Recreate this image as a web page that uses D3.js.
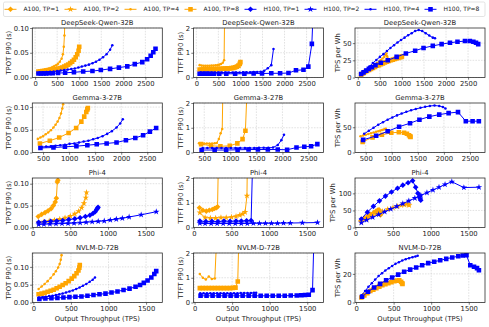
<!DOCTYPE html>
<html lang="en">
<head>
<meta charset="UTF-8">
<title>Latency and energy efficiency vs throughput</title>
<style>
  body { margin: 0; background: #fff; }
  svg { display: block; font-family: 'DejaVu Sans', sans-serif; }
</style>
</head>
<body>
<svg id="chart" width="489" height="327"></svg>
<script src="https://d3js.org/d3.v7.min.js"></script>
<script>
// ---------------- data ----------------
const models = ["DeepSeek-Qwen-32B", "Gemma-3-27B", "Phi-4", "NVLM-D-72B"];
const yLabels = ["TPOT P90 (s)", "TTFT P90 (s)", "TPS per Wh"];
const xLabel = "Output Throughput (TPS)";
const legendGpus = ["A100", "H100"];
const legendTps = [1, 2, 4, 8];

// x tick labels per row
const xTicksRow = [[0, 500, 1000, 1500, 2000, 2500], [500, 1000, 1500, 2000, 2500], [0, 500, 1000, 1500], [0, 500, 1000, 1500]];
const tpotTicks = [0, 0.05, 0.10];
const ttftTicks = [0, 1, 2];
const effTicksRow = [[0, 25, 50], [0, 50], [0, 50, 100], [0, 20]];

// DeepSeek-Qwen-32B
const dsA4_x = [75, 120, 165, 210, 255, 300, 345, 390, 435, 480, 520, 560, 600, 630, 650, 665, 675];
const dsA4_tpot = [0.013, 0.014, 0.015, 0.016, 0.017, 0.018, 0.019, 0.021, 0.023, 0.025, 0.028, 0.032, 0.038, 0.047, 0.062, 0.085, 0.115];
const dsA4_ttft = [0.50, 0.48, 0.47, 0.47, 0.47, 0.47, 0.48, 0.48, 0.49, 0.50, 0.52, 0.55, 0.60, 0.70, 4.0, 6.0, 8.0];
const dsA4_eff = [4, 6.5, 9, 11, 13, 15, 17, 19, 21, 23, 25, 27.5, 30, 33, 35, 31, 28];

const dsA8_x = [75, 120, 165, 210, 255, 300, 345, 390, 435, 480, 525, 570, 615, 660, 705, 750, 795, 840, 880, 920, 955, 985, 1000];
const dsA8_tpot = [0.012, 0.012, 0.013, 0.013, 0.014, 0.014, 0.015, 0.016, 0.016, 0.017, 0.018, 0.019, 0.020, 0.022, 0.024, 0.026, 0.029, 0.032, 0.036, 0.041, 0.047, 0.054, 0.062];
const dsA8_ttft = [0.32, 0.32, 0.33, 0.33, 0.33, 0.33, 0.34, 0.34, 0.34, 0.35, 0.35, 0.35, 0.36, 0.36, 0.37, 0.37, 0.38, 0.39, 0.41, 0.44, 0.48, 0.55, 0.62];
const dsA8_eff = [4, 6, 8, 9.5, 11, 12.5, 14, 15.5, 17, 18, 19.5, 20.5, 22, 23, 24, 25, 26, 27, 28, 28.5, 29.5, 30, 30.5];

const dsH4_x = [100, 180, 260, 340, 420, 500, 580, 660, 740, 820, 900, 980, 1060, 1140, 1220, 1300, 1380, 1460, 1540, 1620, 1700, 1750];
const dsH4_tpot = [0.010, 0.0105, 0.011, 0.0115, 0.012, 0.013, 0.014, 0.015, 0.016, 0.017, 0.018, 0.020, 0.022, 0.024, 0.026, 0.029, 0.032, 0.036, 0.041, 0.047, 0.056, 0.065];
const dsH4_ttft = [0.20, 0.20, 0.20, 0.20, 0.20, 0.20, 0.20, 0.20, 0.20, 0.20, 0.20, 0.20, 0.21, 0.21, 0.21, 0.22, 0.22, 0.23, 0.27, 0.37, 0.50, 1.15];
const dsH4_eff = [6, 11, 16, 21, 25.5, 30, 34, 38.5, 43, 47, 51, 54.5, 58, 61.5, 64.5, 67.5, 69, 67.5, 64.5, 61, 58, 57];

const dsH8_x = [75, 130, 190, 250, 320, 400, 520, 680, 880, 1090, 1300, 1490, 1700, 1900, 2090, 2260, 2430, 2540, 2620, 2680, 2730];
const dsH8_tpot = [0.008, 0.008, 0.008, 0.008, 0.0085, 0.0085, 0.009, 0.0095, 0.0105, 0.012, 0.013, 0.015, 0.0175, 0.020, 0.0225, 0.027, 0.031, 0.037, 0.044, 0.051, 0.058];
const dsH8_ttft = [0.15, 0.15, 0.15, 0.15, 0.15, 0.15, 0.15, 0.15, 0.15, 0.15, 0.16, 0.16, 0.17, 0.17, 0.18, 0.29, 0.31, 0.44, 1.36, 4.0, 8.0];
const dsH8_eff = [5, 7.5, 10, 12.5, 15, 18, 21.5, 25, 30, 35, 39, 43, 46, 48.5, 50.5, 52, 53, 53, 52, 50.5, 48.5];

// Gemma-3-27B
const gmA4_x = [400, 450, 500, 550, 600, 650, 700, 740, 780, 815, 845, 870, 885];
const gmA4_tpot = [0.030, 0.033, 0.036, 0.040, 0.044, 0.049, 0.055, 0.061, 0.068, 0.076, 0.086, 0.097, 0.106];
const gmA4_ttft = [0.37, 0.36, 0.36, 0.36, 0.36, 0.36, 0.37, 0.38, 0.55, 0.78, 0.95, 4.0, 6.0];
const gmA4_eff = [32, 33.5, 35, 36.5, 38, 39.5, 41, 42, 43.3, 44.5, 45.5, 46.5, 47];

const gmA8_x = [440, 630, 810, 990, 1135, 1235, 1290, 1330, 1350, 1360];
const gmA8_tpot = [0.020, 0.026, 0.033, 0.043, 0.054, 0.068, 0.079, 0.089, 0.095, 0.098];
const gmA8_ttft = [0.34, 0.27, 0.25, 0.27, 0.37, 0.54, 0.88, 3.0, 5.0, 6.0];
const gmA8_eff = [21, 30, 35, 39, 40, 39, 37, 34, 32, 31];

const gmH4_x = [470, 560, 650, 740, 830, 920, 1010, 1100, 1190, 1280, 1370, 1460, 1550, 1640, 1730, 1820, 1910, 1980, 2030];
const gmH4_tpot = [0.012, 0.013, 0.014, 0.015, 0.016, 0.017, 0.019, 0.020, 0.022, 0.024, 0.026, 0.029, 0.032, 0.036, 0.041, 0.047, 0.055, 0.064, 0.073];
const gmH4_ttft = [0.18, 0.18, 0.18, 0.18, 0.18, 0.18, 0.18, 0.18, 0.18, 0.18, 0.18, 0.18, 0.19, 0.19, 0.19, 0.20, 0.30, 0.50, 0.72];
const gmH4_eff = [37, 43, 49, 55, 60, 65, 69.5, 73.5, 77, 80.5, 83.5, 86, 88.5, 90.5, 92, 93, 92, 90, 87];

const gmH8_x = [450, 700, 920, 1140, 1350, 1530, 1720, 1910, 2090, 2270, 2420, 2550, 2670];
const gmH8_tpot = [0.010, 0.011, 0.0125, 0.014, 0.016, 0.018, 0.020, 0.022, 0.027, 0.032, 0.038, 0.046, 0.054];
const gmH8_ttft = [0.10, 0.10, 0.10, 0.11, 0.12, 0.12, 0.12, 0.12, 0.11, 0.20, 0.23, 0.25, 0.34];
const gmH8_eff = [25, 33, 42, 51, 58, 65, 71, 75, 78, 80, 62, 62, 62];

// Phi-4
const phA1_x = [75, 120, 165, 205, 245, 275, 300, 315, 328, 335];
const phA1_tpot = [0.025, 0.030, 0.034, 0.038, 0.043, 0.050, 0.058, 0.067, 0.104, 0.108];
const phA1_ttft = [0.80, 0.70, 0.66, 0.70, 0.73, 0.77, 0.80, 0.84, 3.0, 5.0];
const phA1_eff = [20, 28, 34, 39, 44, 48, 51, 52, 42, 37];

const phA2_x = [80, 150, 220, 290, 360, 430, 500, 560, 610, 650, 680, 705, 715];
const phA2_tpot = [0.012, 0.013, 0.015, 0.017, 0.019, 0.022, 0.026, 0.031, 0.037, 0.045, 0.055, 0.068, 0.080];
const phA2_ttft = [0.60, 0.40, 0.38, 0.38, 0.40, 0.40, 0.42, 0.45, 0.50, 0.55, 0.62, 1.28, 4.0];
const phA2_eff = [16, 25, 33, 40, 47, 53, 58, 62, 65, 67, 68, 67, 65];

const phH1_x = [80, 160, 240, 320, 400, 480, 560, 630, 700, 760, 800, 830, 850, 860, 868];
const phH1_tpot = [0.012, 0.013, 0.014, 0.015, 0.016, 0.018, 0.020, 0.022, 0.025, 0.028, 0.032, 0.036, 0.041, 0.044, 0.046];
const phH1_ttft = [0.26, 0.24, 0.25, 0.24, 0.26, 0.25, 0.26, 0.26, 0.27, 0.28, 5, 10, 12, 14, 15];
const phH1_eff = [25, 45, 62, 78, 92, 104, 115, 124, 131, 137, 118, 100, 90, 84, 80];

const phH2_x = [80, 150, 230, 310, 390, 470, 550, 630, 710, 790, 870, 950, 1030, 1110, 1190, 1280, 1440, 1640];
const phH2_tpot = [0.007, 0.0075, 0.008, 0.0085, 0.009, 0.0095, 0.010, 0.011, 0.012, 0.013, 0.014, 0.015, 0.017, 0.019, 0.021, 0.024, 0.029, 0.036];
const phH2_ttft = [0.17, 0.16, 0.16, 0.16, 0.16, 0.16, 0.16, 0.16, 0.16, 0.17, 0.17, 0.17, 0.17, 0.17, 0.18, 0.18, 0.19, 0.20];
const phH2_eff = [14, 22, 30, 38, 46, 54, 62, 70, 78, 86, 94, 102, 110, 118, 126, 134, 117, 118];

// NVLM-D-72B
const nvA4_x = [70, 110, 150, 190, 230, 270, 300, 330, 350, 365, 375];
const nvA4_tpot = [0.038, 0.045, 0.052, 0.060, 0.069, 0.079, 0.088, 0.098, 0.108, 0.120, 0.133];
const nvA4_ttft = [1.15, 1.00, 0.93, 1.05, 0.95, 0.97, 3.0, 5.0, 6.0, 7.0, 8.0];
const nvA4_eff = [3.5, 5.5, 7.5, 9, 10.5, 11.5, 12.5, 13.3, 13.8, 14, 14];

const nvA8_x = [70, 110, 150, 190, 230, 270, 310, 350, 390, 430, 470, 510, 545, 575, 600, 612, 618];
const nvA8_tpot = [0.023, 0.025, 0.027, 0.030, 0.033, 0.036, 0.040, 0.044, 0.049, 0.054, 0.060, 0.067, 0.074, 0.082, 0.090, 0.098, 0.105];
const nvA8_ttft = [0.58, 0.58, 0.58, 0.58, 0.58, 0.58, 0.58, 0.58, 0.58, 0.58, 0.58, 0.59, 0.60, 0.85, 4.0, 7.0, 9.0];
const nvA8_eff = [3.5, 5, 6.5, 8, 9, 10, 11, 12, 12.8, 13.5, 14.2, 14.8, 15.3, 15.6, 14.5, 13.5, 13];

const nvH4_x = [75, 120, 165, 210, 255, 300, 345, 390, 435, 480, 525, 570, 615, 660, 705, 750, 790, 820];
const nvH4_tpot = [0.014, 0.015, 0.016, 0.018, 0.019, 0.021, 0.023, 0.025, 0.028, 0.031, 0.034, 0.038, 0.042, 0.047, 0.052, 0.058, 0.064, 0.070];
const nvH4_ttft = [0.37, 0.37, 0.37, 0.37, 0.37, 0.37, 0.37, 0.37, 0.37, 0.37, 0.37, 0.37, 0.38, 0.38, 0.38, 0.38, 0.39, 0.39];
const nvH4_eff = [5, 8, 11, 13.5, 16, 18.5, 20.5, 22.3, 24, 25.5, 27, 28.2, 29.3, 30.3, 31, 31.7, 32.2, 32.6];

const nvH8_x = [80, 160, 240, 320, 400, 480, 560, 640, 720, 800, 880, 960, 1040, 1120, 1200, 1280, 1360, 1420, 1470, 1520, 1570, 1610, 1635];
const nvH8_tpot = [0.010, 0.011, 0.012, 0.013, 0.014, 0.015, 0.016, 0.017, 0.019, 0.021, 0.023, 0.025, 0.028, 0.031, 0.035, 0.039, 0.044, 0.049, 0.055, 0.062, 0.070, 0.080, 0.088];
const nvH8_ttft = [0.27, 0.27, 0.27, 0.27, 0.27, 0.27, 0.27, 0.27, 0.27, 0.27, 0.27, 0.27, 0.27, 0.27, 0.27, 0.28, 0.28, 0.29, 0.30, 0.31, 0.50, 5.0, 8.0];
const nvH8_eff = [4, 7.5, 10.5, 13, 15.5, 17.5, 19.5, 21.5, 23, 24.5, 26, 27.5, 28.5, 29.5, 30.5, 31.5, 32.3, 32.8, 33, 26, 25, 24, 22.5];

// ---------------- series table ----------------
const series = [
  {row: 0, gpu: "A100", tp: 4, x: dsA4_x, v: [dsA4_tpot, dsA4_ttft, dsA4_eff]},
  {row: 0, gpu: "A100", tp: 8, x: dsA8_x, v: [dsA8_tpot, dsA8_ttft, dsA8_eff]},
  {row: 0, gpu: "H100", tp: 4, x: dsH4_x, v: [dsH4_tpot, dsH4_ttft, dsH4_eff]},
  {row: 0, gpu: "H100", tp: 8, x: dsH8_x, v: [dsH8_tpot, dsH8_ttft, dsH8_eff]},
  {row: 1, gpu: "A100", tp: 4, x: gmA4_x, v: [gmA4_tpot, gmA4_ttft, gmA4_eff]},
  {row: 1, gpu: "A100", tp: 8, x: gmA8_x, v: [gmA8_tpot, gmA8_ttft, gmA8_eff]},
  {row: 1, gpu: "H100", tp: 4, x: gmH4_x, v: [gmH4_tpot, gmH4_ttft, gmH4_eff]},
  {row: 1, gpu: "H100", tp: 8, x: gmH8_x, v: [gmH8_tpot, gmH8_ttft, gmH8_eff]},
  {row: 2, gpu: "A100", tp: 1, x: phA1_x, v: [phA1_tpot, phA1_ttft, phA1_eff]},
  {row: 2, gpu: "A100", tp: 2, x: phA2_x, v: [phA2_tpot, phA2_ttft, phA2_eff]},
  {row: 2, gpu: "H100", tp: 1, x: phH1_x, v: [phH1_tpot, phH1_ttft, phH1_eff]},
  {row: 2, gpu: "H100", tp: 2, x: phH2_x, v: [phH2_tpot, phH2_ttft, phH2_eff]},
  {row: 3, gpu: "A100", tp: 4, x: nvA4_x, v: [nvA4_tpot, nvA4_ttft, nvA4_eff]},
  {row: 3, gpu: "A100", tp: 8, x: nvA8_x, v: [nvA8_tpot, nvA8_ttft, nvA8_eff]},
  {row: 3, gpu: "H100", tp: 4, x: nvH4_x, v: [nvH4_tpot, nvH4_ttft, nvH4_eff]},
  {row: 3, gpu: "H100", tp: 8, x: nvH8_x, v: [nvH8_tpot, nvH8_ttft, nvH8_eff]}
];

// axis limits per row / column
const xDomains = [[-64, 2884], [294, 2788], [-4, 1720], [-14, 1716]];
const tpotDomains = [[0, 0.1], [0, 0.109], [0, 0.113], [0, 0.139]];
const effDomains = [[0, 72], [0, 98], [0, 145], [0, 34.6]];

// ---------------- layout ----------------
const rowTop = [28, 103, 178, 253];
const colLeft = [32.3, 193.5, 355];
const pw = 130, ph = 49.5;
const fs = 6.8;
const color = {A100: "#ffa500", H100: "#0000ff"};

const svg = d3.select("#chart");

function markerPath(tp) {
  if (tp === 1) return "M0,-2.8L2.8,0L0,2.8L-2.8,0Z";
  if (tp === 2) return d3.symbol(d3.symbolStar, 13)();
  if (tp === 4) return d3.symbol(d3.symbolCircle, 5)();
  return d3.symbol(d3.symbolSquare, 21)();
}

function yDomain(row, col) {
  if (col === 0) return tpotDomains[row];
  if (col === 1) return [0, 2];
  return effDomains[row];
}
function yTicks(row, col) {
  if (col === 0) return tpotTicks;
  if (col === 1) return ttftTicks;
  return effTicksRow[row];
}

function drawPanel(row, col) {
  const left = colLeft[col], top = rowTop[row];
  const x = d3.scaleLinear().domain(xDomains[row]).range([left, left + pw]);
  const y = d3.scaleLinear().domain(yDomain(row, col)).range([top + ph, top]);
  const g = svg.append("g");
  const id = `clip-${row}-${col}`;

  g.append("clipPath").attr("id", id)
    .append("rect").attr("x", left).attr("y", top).attr("width", pw).attr("height", ph);

  // grid
  const grid = g.append("g").attr("stroke", "#c4c4c4").attr("stroke-width", 0.5)
    .attr("stroke-dasharray", "1.6,1.2");
  grid.selectAll(".gx").data(xTicksRow[row]).join("line")
    .attr("x1", d => x(d)).attr("x2", d => x(d)).attr("y1", top).attr("y2", top + ph);
  grid.selectAll(".gy").data(yTicks(row, col)).join("line")
    .attr("x1", left).attr("x2", left + pw).attr("y1", d => y(d)).attr("y2", d => y(d));

  // series
  const plot = g.append("g").attr("clip-path", `url(#${id})`);
  series.filter(s => s.row === row).forEach(s => {
    const pts = s.x.map((xv, i) => [xv, s.v[col][i]]);
    plot.append("path")
      .attr("d", d3.line().x(d => x(d[0])).y(d => y(d[1]))(pts))
      .attr("fill", "none").attr("stroke", color[s.gpu]).attr("stroke-width", 1);
    plot.selectAll(null).data(pts).join("path")
      .attr("d", markerPath(s.tp))
      .attr("transform", d => `translate(${x(d[0])},${y(d[1])})`)
      .attr("fill", color[s.gpu]);
  });

  // frame
  g.append("rect").attr("x", left).attr("y", top).attr("width", pw).attr("height", ph)
    .attr("fill", "none").attr("stroke", "#222").attr("stroke-width", 0.75);

  // axes
  const xa = g.append("g").attr("transform", `translate(0,${top + ph})`)
    .call(d3.axisBottom(x).tickValues(xTicksRow[row]).tickSize(2.2).tickPadding(1.6).tickFormat(d3.format("d")));
  const yfmt = col === 0 ? d3.format(".2f") : d3.format("d");
  const ya = g.append("g").attr("transform", `translate(${left},0)`)
    .call(d3.axisLeft(y).tickValues(yTicks(row, col)).tickSize(2.2).tickPadding(1.2).tickFormat(yfmt));
  [xa, ya].forEach(a => {
    a.select(".domain").remove();
    a.attr("font-size", fs).attr("font-family", "'DejaVu Sans', sans-serif");
    a.selectAll("line").attr("stroke", "#222").attr("stroke-width", 0.6);
    a.selectAll("text").attr("fill", "#222");
  });

  // y label, placed left of the widest tick label
  let w = 0;
  ya.selectAll("text").each(function () { w = Math.max(w, this.getComputedTextLength()); });
  const lx = left - 3.4 - w - 3.2;
  const ly = top + ph / 2;
  g.append("text").attr("transform", `translate(${lx},${ly}) rotate(-90)`)
    .attr("text-anchor", "middle").attr("font-size", fs).attr("fill", "#222")
    .text(yLabels[col]);

  // title
  g.append("text").attr("x", left + pw / 2).attr("y", top - 3.4)
    .attr("text-anchor", "middle").attr("font-size", fs).attr("fill", "#222")
    .text(models[row]);

  // x label on bottom row
  if (row === 3) {
    g.append("text").attr("x", left + pw / 2).attr("y", 321)
      .attr("text-anchor", "middle").attr("font-size", fs).attr("fill", "#222")
      .text(xLabel);
  }
}

for (let r = 0; r < 4; r++) for (let c = 0; c < 3; c++) drawPanel(r, c);

// ---------------- legend ----------------
const lg = svg.append("g");
lg.append("rect").attr("x", 3.5).attr("y", 2).attr("width", 481.5).attr("height", 14.5)
  .attr("rx", 1.5).attr("fill", "#fff").attr("fill-opacity", 0.8)
  .attr("stroke", "#d0d0d0").attr("stroke-width", 0.6);
const entries = [];
legendGpus.forEach(gpu => legendTps.forEach(tp => entries.push({gpu, tp})));
entries.forEach((e, i) => {
  const cx = 10.5 + 60 * i, cy = 9.3;
  lg.append("line").attr("x1", cx - 6).attr("x2", cx + 6).attr("y1", cy).attr("y2", cy)
    .attr("stroke", color[e.gpu]).attr("stroke-width", 1);
  lg.append("path").attr("d", markerPath(e.tp)).attr("transform", `translate(${cx},${cy})`)
    .attr("fill", color[e.gpu]);
  lg.append("text").attr("x", cx + 13).attr("y", cy).attr("dy", "0.35em")
    .attr("font-size", 6.0).attr("fill", "#222")
    .text(`${e.gpu}, TP=${e.tp}`);
});
</script>
</body>
</html>
